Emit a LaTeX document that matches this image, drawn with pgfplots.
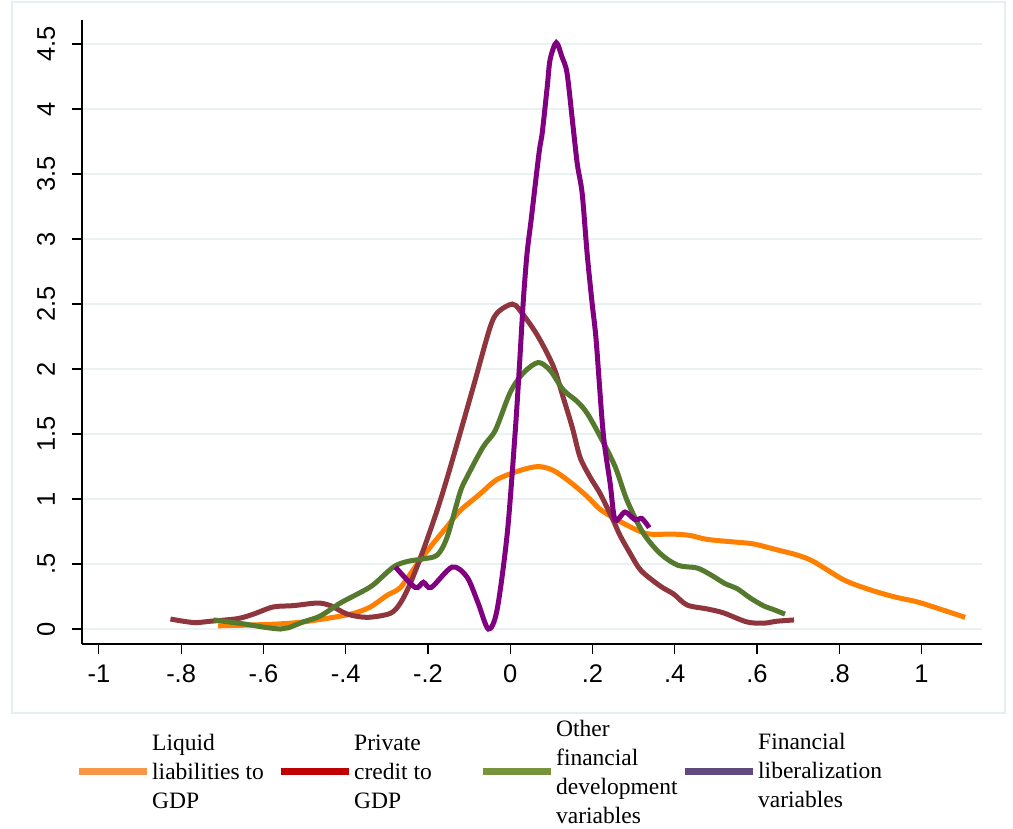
\documentclass[border=0pt]{standalone}
\usepackage{fontspec}
\setmainfont{Liberation Serif}
\newfontfamily\arial{Liberation Sans}
\usepackage{pgfplots}
\pgfplotsset{compat=1.18}
\definecolor{cOr}{HTML}{FF8000}
\definecolor{cMa}{HTML}{8E353D}
\definecolor{cGr}{HTML}{557A2E}
\definecolor{cPu}{HTML}{800080}
\definecolor{lOr}{HTML}{F79646}
\definecolor{lRe}{HTML}{C00000}
\definecolor{lGr}{HTML}{77933C}
\definecolor{lPu}{HTML}{604A7B}
\definecolor{cGrid}{HTML}{EAF1F3}
\definecolor{cBox}{HTML}{E6EEF1}
\pgfplotsset{lgbar/.style={line width=7pt, legend image code/.code={\draw[##1] (0pt,0pt) -- (68pt,0pt);}}}
\newcommand{\lgt}[2]{\makebox[128pt][l]{\raisebox{#1}{\begin{tabular}{@{}l@{}}#2\end{tabular}}}}
\begin{document}
\begin{tikzpicture}[x=1pt,y=1pt]
\path[use as bounding box] (-82,-185) rectangle (931,644);
\draw[color=cBox, line width=1.5pt] (-70,-69) rectangle (923,642);
\begin{axis}[
  at={(0,0)}, anchor=south west,
  width=900pt, height=624pt, scale only axis,
  xmin=-1.041, xmax=1.147, ymin=-0.115, ymax=4.685,
  axis x line*=bottom, axis y line*=left,
  axis line style={-, black, line width=1.2pt},
  tick align=outside, major tick length=10pt,
  tick style={black, line width=1.2pt},
  xtick={-1,-0.8,-0.6,-0.4,-0.2,0,0.2,0.4,0.6,0.8,1},
  xticklabels={-1,-.8,-.6,-.4,-.2,0,.2,.4,.6,.8,1},
  ytick={0,0.5,1,1.5,2,2.5,3,3.5,4,4.5},
  yticklabels={0,.5,1,1.5,2,2.5,3,3.5,4,4.5},
  ticklabel style={font=\arial\fontsize{25.5}{30}\selectfont},
  xticklabel style={anchor=base, yshift=-29pt},
  yticklabel style={rotate=90, anchor=base, yshift=17pt},
  ymajorgrids, grid style={color=cGrid, line width=2pt},
  legend columns=4,
  legend style={at={(axis description cs:0,0)}, anchor=west, xshift=-7pt, yshift=-128pt,
    draw=none, fill=none, inner sep=0pt,
    nodes={inner sep=0pt},
    font=\fontsize{23.5}{29}\selectfont,
    /tikz/every odd column/.append style={column sep=2pt},
    /tikz/every even column/.append style={column sep=-3pt}},
  legend cell align=left,
]
\addplot[cOr, line width=5pt, smooth, tension=0.5, forget plot] coordinates {
(-0.71,0.025) (-0.64,0.03) (-0.559,0.04) (-0.503,0.055) (-0.43,0.09) (-0.381,0.12) (-0.34,0.17) (-0.299,0.26) (-0.267,0.32) (-0.226,0.5) (-0.187,0.66) (-0.153,0.79) (-0.122,0.91) (-0.073,1.04) (-0.032,1.15) (0.024,1.22) (0.068,1.25) (0.105,1.22) (0.146,1.13) (0.187,1.02) (0.219,0.92) (0.26,0.84) (0.309,0.76) (0.34,0.73) (0.397,0.73) (0.437,0.72) (0.478,0.69) (0.543,0.67) (0.591,0.655) (0.648,0.61) (0.697,0.57) (0.737,0.52) (0.81,0.38) (0.867,0.31) (0.931,0.25) (0.988,0.21) (1.029,0.17) (1.106,0.09)};
\addplot[cMa, line width=5pt, smooth, tension=0.5, forget plot] coordinates {
(-0.826,0.077) (-0.77,0.05) (-0.729,0.06) (-0.663,0.08) (-0.624,0.115) (-0.576,0.17) (-0.527,0.18) (-0.469,0.2) (-0.437,0.18) (-0.396,0.115) (-0.348,0.09) (-0.292,0.12) (-0.267,0.2) (-0.243,0.35) (-0.211,0.61) (-0.177,0.92) (-0.146,1.24) (-0.09,1.86) (-0.049,2.32) (-0.029,2.44) (0.005,2.5) (0.024,2.45) (0.066,2.26) (0.105,2.02) (0.129,1.78) (0.151,1.55) (0.17,1.32) (0.194,1.17) (0.219,1.04) (0.25,0.84) (0.267,0.72) (0.292,0.58) (0.318,0.45) (0.365,0.33) (0.397,0.27) (0.43,0.185) (0.478,0.155) (0.518,0.125) (0.575,0.055) (0.616,0.045) (0.648,0.06) (0.69,0.07)};
\addplot[cGr, line width=5pt, smooth, tension=0.5, forget plot] coordinates {
(-0.721,0.07) (-0.649,0.04) (-0.6,0.015) (-0.559,0.0) (-0.539,0.01) (-0.503,0.055) (-0.462,0.1) (-0.413,0.2) (-0.365,0.28) (-0.333,0.34) (-0.284,0.477) (-0.25,0.52) (-0.211,0.54) (-0.177,0.57) (-0.153,0.71) (-0.122,1.05) (-0.105,1.17) (-0.066,1.4) (-0.036,1.53) (0.0,1.82) (0.032,1.97) (0.068,2.05) (0.097,1.99) (0.129,1.84) (0.163,1.75) (0.187,1.66) (0.219,1.48) (0.255,1.25) (0.284,0.99) (0.323,0.74) (0.365,0.58) (0.408,0.49) (0.454,0.47) (0.486,0.42) (0.522,0.35) (0.552,0.31) (0.583,0.24) (0.615,0.18) (0.64,0.15) (0.668,0.115)};
\addplot[cPu, line width=5pt, smooth, tension=0.5, forget plot] coordinates {
(-0.279,0.477) (-0.231,0.32) (-0.211,0.36) (-0.192,0.32) (-0.141,0.477) (-0.105,0.40) (-0.078,0.2) (-0.053,0.0) (-0.032,0.146) (-0.007,0.74) (0.012,1.51) (0.022,2.0) (0.032,2.53) (0.041,2.89) (0.051,3.15) (0.07,3.66) (0.078,3.82) (0.09,4.17) (0.097,4.38) (0.112,4.51) (0.126,4.40) (0.138,4.28) (0.151,3.92) (0.163,3.58) (0.175,3.35) (0.187,2.89) (0.199,2.51) (0.209,2.22) (0.226,1.51) (0.243,1.12) (0.255,0.84) (0.279,0.90) (0.304,0.84) (0.32,0.85) (0.338,0.78)};
\addlegendimage{lOr, lgbar}
\addlegendentry{\lgt{33pt}{Liquid\\liabilities to\\GDP}}
\addlegendimage{lRe, lgbar}
\addlegendentry{\lgt{33pt}{Private\\credit to\\GDP}}
\addlegendimage{lGr, lgbar}
\addlegendentry{\lgt{45pt}{Other\\financial\\development\\variables}}
\addlegendimage{lPu, lgbar}
\addlegendentry{\lgt{35pt}{Financial\\liberalization\\variables}}
\end{axis}
\end{tikzpicture}
\end{document}
